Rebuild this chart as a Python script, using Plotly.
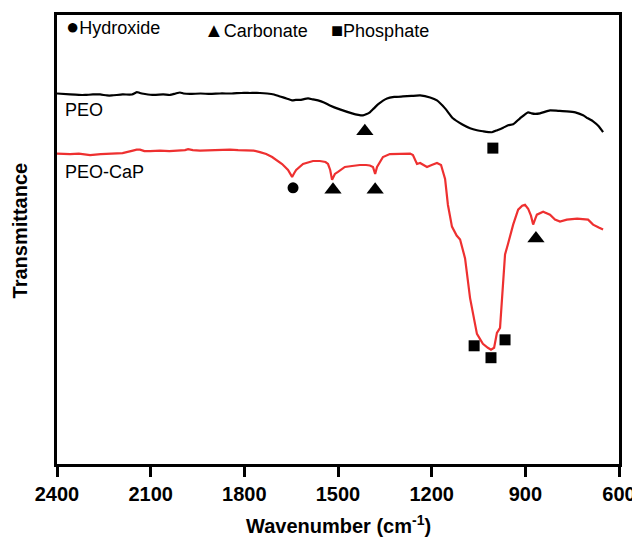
import plotly.graph_objects as go

# Wavenumber (cm^-1) and transmittance (arbitrary units, offset traces)
peo_wn = [2400, 2358, 2330, 2310, 2285, 2262, 2240, 2224, 2190, 2160, 2150, 2144, 2135, 2118, 2090, 2060, 2038,
          2020, 2006, 1995, 1974, 1940, 1910, 1878, 1840, 1810, 1782, 1750, 1727, 1705, 1686, 1665, 1647, 1635,
          1622, 1596, 1580, 1564, 1545, 1526, 1494, 1455, 1435, 1420, 1410, 1398, 1385, 1372, 1343, 1320, 1292,
          1265, 1237, 1205, 1183, 1157, 1132, 1103, 1077, 1055, 1036, 1007, 990, 971, 955, 939, 917, 891, 880,
          869, 853, 821, 795, 767, 740, 715, 700, 683, 665, 651]
peo_t = [373, 372, 371.5, 371.5, 372, 372, 371, 371, 372, 372, 373.5, 374.5, 373.5, 372.5, 371.5, 372, 371.5,
         373, 374, 373, 372.5, 373, 372.5, 373, 373, 373.5, 373.5, 373.5, 373, 372, 370, 368, 366, 366.5,
         366.5, 368, 367, 366, 364, 361, 357, 353, 351.5, 351, 352, 354, 358, 362, 368, 369.5, 370,
         370.5, 371, 369, 366, 358, 348, 342, 338, 336, 335, 334, 336, 338.5, 341, 342, 348, 354, 353,
         352.5, 353, 356, 355.5, 355, 354, 351, 348, 345, 340, 334]

cap_wn = [2400, 2358, 2330, 2294, 2260, 2230, 2190, 2157, 2145, 2134, 2120, 2102, 2070, 2040, 2006, 1990, 1980,
          1965, 1942, 1900, 1870, 1846, 1820, 1791, 1770, 1750, 1730, 1711, 1695, 1679, 1660, 1647, 1640, 1634,
          1612, 1595, 1580, 1558, 1540, 1532, 1525, 1519, 1510, 1500, 1478, 1455, 1430, 1410, 1398, 1388, 1381,
          1375, 1366, 1356, 1334, 1300, 1269, 1260, 1247, 1237, 1228, 1215, 1200, 1183, 1170, 1157, 1148, 1135,
          1120, 1109, 1093, 1077, 1055, 1036, 1020, 1010, 1000, 991, 981, 965, 956, 939, 923, 910, 901, 891,
          882, 875, 868, 863, 843, 821, 805, 789, 767, 734, 699, 683, 665, 651]
cap_t = [312.5, 312, 312.5, 311, 312, 312.5, 313, 315.5, 316.5, 316.5, 315, 315, 315.5, 315, 315.5, 316, 317,
         316, 315.5, 316, 316.5, 316.5, 316, 316, 315.5, 314, 312, 309, 305.5, 302, 296, 289, 293, 296,
         302, 304, 305, 305, 304, 302, 296, 286, 292, 294, 299, 300, 301, 301, 300.5, 299, 292,
         299, 304, 309, 312, 312.5, 312.5, 311, 302, 303, 301, 299, 301, 303, 301, 287, 261, 239,
         230, 226, 207, 167, 131, 121, 117, 115, 117, 132, 137, 211, 221, 241, 256, 260, 261, 257,
         250, 241, 247, 251, 254, 251, 246, 244, 246, 247, 246, 241, 238, 236]

# Band assignment markers
hyd_wn = [1644]
hyd_t = [278]
carb_wn = [1414, 1516, 1381, 866]
carb_t = [335, 276, 276, 227]
phos_wn = [1004, 1064, 1010, 965]
phos_t = [318, 119, 107, 125]

fig = go.Figure()
fig.add_trace(go.Scatter(x=peo_wn, y=peo_t, mode="lines",
                         line=dict(color="black", width=2.2, shape="spline", smoothing=0.5), showlegend=False))
fig.add_trace(go.Scatter(x=cap_wn, y=cap_t, mode="lines", line=dict(color="#ee3030", width=2.2),
                         showlegend=False))
fig.add_trace(go.Scatter(x=hyd_wn, y=hyd_t, mode="markers",
                         marker=dict(symbol="circle", size=11, color="black"), showlegend=False))
fig.add_trace(go.Scatter(x=carb_wn, y=carb_t, mode="markers",
                         marker=dict(symbol="triangle-up", size=15, color="black"), showlegend=False))
fig.add_trace(go.Scatter(x=phos_wn, y=phos_t, mode="markers",
                         marker=dict(symbol="square", size=11, color="black"), showlegend=False))

font_reg = dict(family="Liberation Sans, Arial, sans-serif", size=18, color="black")
font_bold = dict(family="Liberation Sans, Arial, sans-serif", size=20, color="black", weight="bold")

annotations = [
    dict(x=2380, y=356, text="PEO", showarrow=False, xanchor="left", yanchor="middle", font=font_reg),
    dict(x=2380, y=294, text="PEO-CaP", showarrow=False, xanchor="left", yanchor="middle", font=font_reg),
    dict(x=2378, y=440, text="<span style='font-size:22px'>●</span>Hydroxide", showarrow=False,
         xanchor="left", yanchor="middle", font=font_reg),
    dict(x=1937, y=437, text="<span style='font-size:20px'>▲</span>Carbonate", showarrow=False,
         xanchor="left", yanchor="middle", font=font_reg),
    dict(x=1528, y=437, text="<span style='font-size:20px'>■</span>Phosphate", showarrow=False,
         xanchor="left", yanchor="middle", font=font_reg),
    dict(x=0.5, y=-0.135, xref="paper", yref="paper", text="Wavenumber (cm<sup>-1</sup>)", showarrow=False,
         xanchor="center", yanchor="middle", font=font_bold),
    dict(x=-0.066, y=0.52, xref="paper", yref="paper", text="Transmittance", showarrow=False, textangle=-90,
         xanchor="center", yanchor="middle", font=font_bold),
]

fig.update_layout(
    width=632, height=532,
    margin=dict(l=49, r=21, t=4, b=76),
    paper_bgcolor="white", plot_bgcolor="white",
    annotations=annotations,
    xaxis=dict(range=[2400, 600], tickvals=[2400, 2100, 1800, 1500, 1200, 900, 600],
               ticks="outside", ticklen=10, tickwidth=3, tickcolor="black",
               showline=True, linecolor="black", linewidth=3, mirror=True, showgrid=False, zeroline=False,
               tickfont=font_bold),
    yaxis=dict(range=[0, 452], showticklabels=False, ticks="", showline=True, linecolor="black", linewidth=3,
               mirror=True, showgrid=False, zeroline=False),
)

fig.write_html("out.html", config={"displayModeBar": False, "responsive": False},
               post_script="document.documentElement.style.overflow='hidden';")
